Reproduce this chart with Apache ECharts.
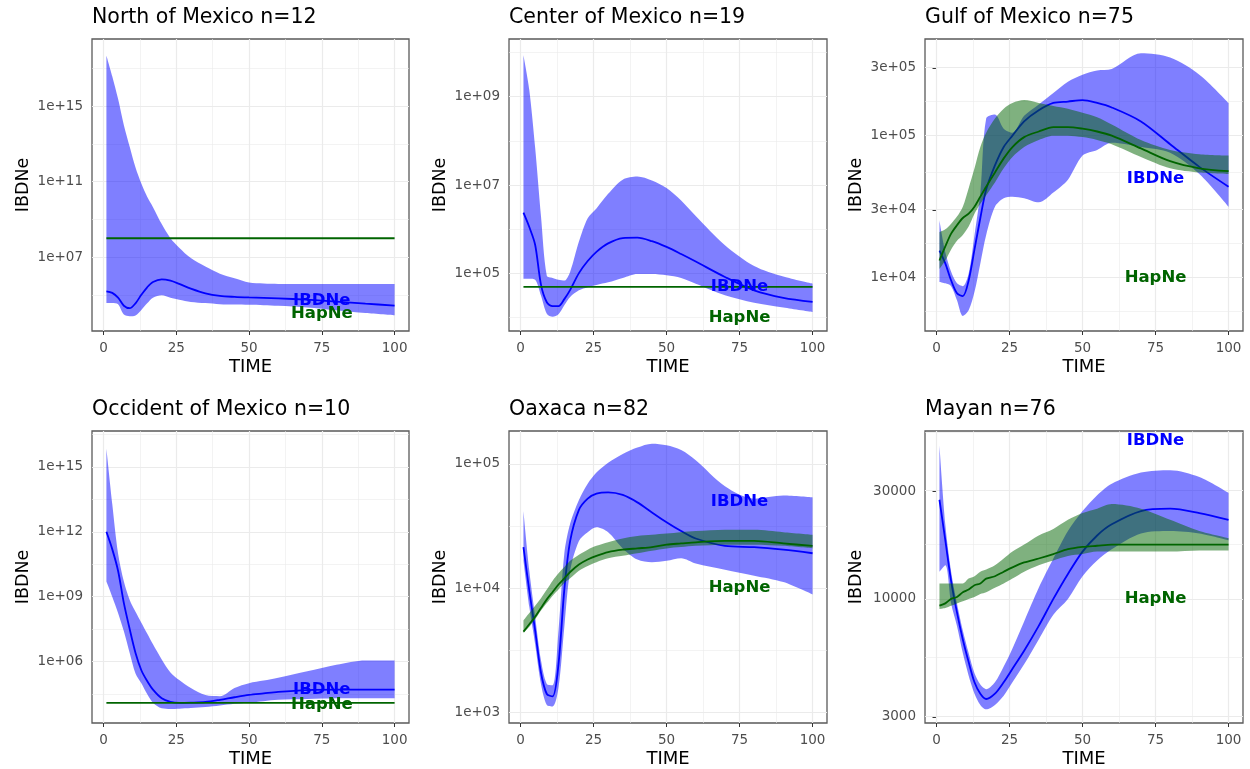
<!DOCTYPE html>
<html>
<head>
<meta charset="utf-8">
<script src="https://cdn.jsdelivr.net/npm/echarts@6/dist/echarts.min.js"></script>
<style>
  html, body { margin: 0; padding: 0; background: #fff; }
  #chart { width: 1250px; height: 769px; }
</style>
</head>
<body>
<div id="chart"></div>
<script>
const timeSteps = [1, 3, 5, 7, 9, 11, 13, 15, 17, 20, 23, 26, 30, 35, 40, 45, 50, 55, 60, 70, 80, 90, 100];
const flatTimes = [1, 100];

// North of Mexico
const northIbdLow = [3.63e4, 3.63e4, 3.16e4, 8.91e3, 7.24e3, 7.94e3, 1.58e4, 3.55e4, 7.08e4, 9.55e4, 7.08e4, 5.5e4, 4.17e4, 3.63e4, 3.16e4, 3.02e4, 2.95e4, 2.82e4, 2.63e4, 2.14e4, 1.51e4, 1.07e4, 8.13e3];
const northIbdMean = [1.51e5, 1.26e5, 7.08e4, 2.63e4, 1.95e4, 3.55e4, 1.0e5, 2.51e5, 4.79e5, 6.61e5, 5.62e5, 3.8e5, 2.14e5, 1.2e5, 8.71e4, 7.76e4, 7.24e4, 6.92e4, 6.46e4, 5.5e4, 4.37e4, 3.39e4, 2.69e4];
const northIbdHigh = [5.01e17, 3.98e16, 2.51e15, 1.0e14, 7.08e12, 5.62e11, 7.94e10, 1.58e10, 4.47e9, 5.62e8, 1.0e8, 3.16e7, 8.91e6, 3.16e6, 1.32e6, 7.59e5, 4.47e5, 3.98e5, 3.8e5, 3.72e5, 3.72e5, 3.72e5, 3.72e5];
const northHapLow = [1.0e8, 1.0e8];
const northHapMean = [1.0e8, 1.0e8];
const northHapHigh = [1.0e8, 1.0e8];

// Center of Mexico
const centerIbdLow = [7.59e4, 7.59e4, 7.24e4, 3.16e4, 1.23e4, 1.05e4, 1.2e4, 1.91e4, 2.95e4, 4.17e4, 4.9e4, 5.5e4, 6.31e4, 7.94e4, 9.77e4, 9.77e4, 9.12e4, 7.94e4, 5.89e4, 3.24e4, 2.19e4, 1.7e4, 1.35e4];
const centerIbdMean = [2.37e6, 1.12e6, 4.47e5, 5.62e4, 2.24e4, 1.82e4, 1.82e4, 2.63e4, 4.27e4, 1.02e5, 1.91e5, 3.09e5, 4.79e5, 6.31e5, 6.46e5, 5.37e5, 3.98e5, 2.75e5, 1.86e5, 8.32e4, 4.17e4, 2.82e4, 2.29e4];
const centerIbdHigh = [8.51e9, 1.41e9, 7.08e7, 2.0e6, 8.91e4, 7.94e4, 7.24e4, 6.92e4, 1.1e5, 5.25e5, 1.78e6, 2.95e6, 6.31e6, 1.32e7, 1.55e7, 1.26e7, 8.51e6, 4.47e6, 2.0e6, 4.37e5, 1.48e5, 8.51e4, 5.89e4];
const centerHapLow = [5.0e4, 5.0e4];
const centerHapMean = [5.0e4, 5.0e4];
const centerHapHigh = [5.0e4, 5.0e4];

// Gulf of Mexico
const gulfIbdLow = [9.33e3, 9.12e3, 8.71e3, 6.92e3, 5.37e3, 5.89e3, 7.94e3, 1.26e4, 2.0e4, 3.16e4, 3.63e4, 3.72e4, 3.63e4, 3.39e4, 3.98e4, 4.9e4, 7.24e4, 7.94e4, 8.91e4, 8.32e4, 7.59e4, 5.37e4, 3.16e4];
const gulfIbdMean = [1.55e4, 1.26e4, 9.55e3, 7.76e3, 7.41e3, 9.55e3, 1.58e4, 2.63e4, 4.17e4, 6.17e4, 8.32e4, 1.0e5, 1.26e5, 1.51e5, 1.7e5, 1.74e5, 1.78e5, 1.7e5, 1.58e5, 1.26e5, 8.71e4, 6.03e4, 4.37e4];
const gulfIbdHigh = [2.54e4, 1.51e4, 1.1e4, 9.12e3, 8.71e3, 1.07e4, 2.0e4, 3.98e4, 1.32e5, 1.41e5, 1.12e5, 1.05e5, 1.38e5, 1.66e5, 2.0e5, 2.4e5, 2.69e5, 2.88e5, 2.95e5, 3.8e5, 3.55e5, 2.69e5, 1.7e5];
const gulfHapLow = [1.15e4, 1.32e4, 1.58e4, 1.82e4, 2.0e4, 2.29e4, 2.82e4, 3.31e4, 3.8e4, 4.68e4, 5.89e4, 7.08e4, 8.32e4, 9.33e4, 1.0e5, 1.0e5, 9.77e4, 9.33e4, 8.71e4, 7.08e4, 5.89e4, 5.5e4, 5.37e4];
const gulfHapMean = [1.32e4, 1.66e4, 2.04e4, 2.34e4, 2.63e4, 2.82e4, 3.16e4, 3.72e4, 4.37e4, 5.5e4, 6.92e4, 8.32e4, 9.77e4, 1.07e5, 1.15e5, 1.15e5, 1.12e5, 1.07e5, 1.0e5, 8.13e4, 6.61e4, 5.89e4, 5.62e4];
const gulfHapHigh = [2.09e4, 2.19e4, 2.4e4, 2.69e4, 3.16e4, 4.27e4, 5.89e4, 8.32e4, 1.05e5, 1.32e5, 1.55e5, 1.7e5, 1.78e5, 1.7e5, 1.62e5, 1.55e5, 1.45e5, 1.35e5, 1.2e5, 9.33e4, 7.94e4, 7.41e4, 7.24e4];

// Occident of Mexico
const occidentIbdLow = [5.01e9, 1.0e9, 1.78e8, 2.51e7, 2.51e6, 2.82e5, 1.0e5, 3.16e4, 1.26e4, 6.92e3, 6.46e3, 6.61e3, 7.08e3, 7.94e3, 9.33e3, 1.12e4, 1.29e4, 1.48e4, 1.7e4, 1.86e4, 2.0e4, 2.04e4, 2.0e4];
const occidentIbdMean = [1.0e12, 1.58e11, 1.58e10, 5.01e8, 3.16e7, 2.51e6, 3.98e5, 1.26e5, 5.01e4, 2.0e4, 1.38e4, 1.23e4, 1.26e4, 1.35e4, 1.7e4, 2.24e4, 2.88e4, 3.39e4, 3.98e4, 4.79e4, 5.01e4, 5.01e4, 5.01e4];
const occidentIbdHigh = [7.08e15, 2.0e13, 1.0e11, 5.01e9, 7.08e8, 2.0e8, 6.31e7, 2.0e7, 6.31e6, 1.26e6, 3.16e5, 1.41e5, 6.03e4, 2.82e4, 2.51e4, 6.03e4, 1.0e5, 1.32e5, 1.78e5, 3.55e5, 7.08e5, 1.12e6, 1.12e6];
const occidentHapLow = [1.23e4, 1.23e4];
const occidentHapMean = [1.23e4, 1.23e4];
const occidentHapHigh = [1.23e4, 1.23e4];

// Oaxaca
const oaxacaIbdLow = [1.66e4, 7.08e3, 3.55e3, 1.7e3, 1.15e3, 1.12e3, 1.58e3, 4.9e3, 1.38e4, 2.4e4, 2.82e4, 3.09e4, 2.82e4, 2.09e4, 1.7e4, 1.62e4, 1.66e4, 1.74e4, 1.58e4, 1.41e4, 1.26e4, 1.12e4, 8.91e3];
const oaxacaIbdMean = [2.14e4, 9.55e3, 4.57e3, 2.09e3, 1.41e3, 1.35e3, 2.45e3, 9.77e3, 2.4e4, 4.27e4, 5.25e4, 5.75e4, 5.89e4, 5.62e4, 4.9e4, 4.07e4, 3.39e4, 2.88e4, 2.51e4, 2.19e4, 2.14e4, 2.04e4, 1.91e4];
const oaxacaIbdHigh = [4.17e4, 1.38e4, 5.89e3, 2.63e3, 1.7e3, 1.66e3, 4.57e3, 1.91e4, 3.31e4, 5.13e4, 6.92e4, 8.51e4, 1.02e5, 1.2e5, 1.35e5, 1.45e5, 1.41e5, 1.29e5, 1.07e5, 6.61e4, 5.25e4, 5.56e4, 5.37e4];
const oaxacaHapLow = [4.37e3, 4.9e3, 5.62e3, 6.61e3, 7.59e3, 8.71e3, 9.77e3, 1.1e4, 1.2e4, 1.38e4, 1.51e4, 1.62e4, 1.74e4, 1.82e4, 1.91e4, 2.0e4, 2.09e4, 2.14e4, 2.19e4, 2.24e4, 2.24e4, 2.19e4, 2.09e4];
const oaxacaHapMean = [4.47e3, 5.13e3, 5.89e3, 6.92e3, 8.13e3, 9.33e3, 1.07e4, 1.2e4, 1.35e4, 1.55e4, 1.7e4, 1.82e4, 1.95e4, 2.04e4, 2.09e4, 2.14e4, 2.24e4, 2.29e4, 2.34e4, 2.4e4, 2.4e4, 2.29e4, 2.19e4];
const oaxacaHapHigh = [5.5e3, 6.31e3, 7.24e3, 8.32e3, 9.77e3, 1.15e4, 1.32e4, 1.48e4, 1.66e4, 1.86e4, 2.04e4, 2.19e4, 2.34e4, 2.51e4, 2.63e4, 2.69e4, 2.75e4, 2.82e4, 2.88e4, 2.95e4, 2.95e4, 2.82e4, 2.69e4];

// Mayan
const mayanIbdLow = [1.32e4, 1.41e4, 9.55e3, 7.59e3, 5.75e3, 4.57e3, 3.8e3, 3.39e3, 3.24e3, 3.39e3, 3.72e3, 4.27e3, 5.13e3, 6.61e3, 8.51e3, 1.0e4, 1.26e4, 1.48e4, 1.66e4, 1.95e4, 2.0e4, 1.95e4, 1.82e4];
const mayanIbdMean = [2.75e4, 1.82e4, 1.2e4, 8.71e3, 6.61e3, 5.25e3, 4.27e3, 3.8e3, 3.6e3, 3.8e3, 4.27e3, 4.9e3, 5.89e3, 7.59e3, 1.0e4, 1.29e4, 1.62e4, 1.91e4, 2.14e4, 2.45e4, 2.51e4, 2.4e4, 2.24e4];
const mayanIbdHigh = [4.79e4, 2.14e4, 1.32e4, 9.55e3, 7.24e3, 5.75e3, 4.68e3, 4.17e3, 3.98e3, 4.27e3, 5.01e3, 6.03e3, 7.94e3, 1.12e4, 1.51e4, 2.0e4, 2.45e4, 2.88e4, 3.24e4, 3.63e4, 3.72e4, 3.47e4, 2.95e4];
const mayanHapLow = [9.02e3, 9.12e3, 9.33e3, 9.55e3, 9.77e3, 1.0e4, 1.02e4, 1.05e4, 1.07e4, 1.12e4, 1.17e4, 1.23e4, 1.32e4, 1.41e4, 1.48e4, 1.55e4, 1.58e4, 1.62e4, 1.62e4, 1.62e4, 1.62e4, 1.64e4, 1.64e4];
const mayanHapMean = [9.33e3, 9.55e3, 1.0e4, 1.02e4, 1.07e4, 1.1e4, 1.15e4, 1.17e4, 1.23e4, 1.26e4, 1.32e4, 1.38e4, 1.45e4, 1.51e4, 1.58e4, 1.66e4, 1.7e4, 1.72e4, 1.74e4, 1.74e4, 1.74e4, 1.74e4, 1.74e4];
const mayanHapHigh = [1.17e4, 1.17e4, 1.17e4, 1.17e4, 1.17e4, 1.23e4, 1.26e4, 1.32e4, 1.35e4, 1.41e4, 1.51e4, 1.62e4, 1.74e4, 1.91e4, 2.04e4, 2.24e4, 2.4e4, 2.51e4, 2.63e4, 2.51e4, 2.24e4, 2.0e4, 1.86e4];

// axis breaks and their labels
const xBreaks = [0, 25, 50, 75, 100];
const northBreaks = [1e7, 1e11, 1e15];
const northLabels = ['1e+07', '1e+11', '1e+15'];
const centerBreaks = [1e5, 1e7, 1e9];
const centerLabels = ['1e+05', '1e+07', '1e+09'];
const gulfBreaks = [1e4, 3e4, 1e5, 3e5];
const gulfLabels = ['1e+04', '3e+04', '1e+05', '3e+05'];
const occidentBreaks = [1e6, 1e9, 1e12, 1e15];
const occidentLabels = ['1e+06', '1e+09', '1e+12', '1e+15'];
const oaxacaBreaks = [1e3, 1e4, 1e5];
const oaxacaLabels = ['1e+03', '1e+04', '1e+05'];
const mayanBreaks = [3000, 10000, 30000];
const mayanLabels = ['3000', '10000', '30000'];

// where the two text labels sit
const labelTime = 75;
const ibdneLabelNe = 5e4;
const hapneLabelNe = 1e4;

const panels = [
  { title: 'North of Mexico n=12', ibd: [northIbdLow, northIbdMean, northIbdHigh], hapTimes: flatTimes, hap: [northHapLow, northHapMean, northHapHigh], breaks: northBreaks, labels: northLabels, yRange: [3.08, 18.57] },
  { title: 'Center of Mexico n=19', ibd: [centerIbdLow, centerIbdMean, centerIbdHigh], hapTimes: flatTimes, hap: [centerHapLow, centerHapMean, centerHapHigh], breaks: centerBreaks, labels: centerLabels, yRange: [3.70, 10.30] },
  { title: 'Gulf of Mexico n=75', ibd: [gulfIbdLow, gulfIbdMean, gulfIbdHigh], hapTimes: timeSteps, hap: [gulfHapLow, gulfHapMean, gulfHapHigh], breaks: gulfBreaks, labels: gulfLabels, yRange: [3.624, 5.681] },
  { title: 'Occident of Mexico n=10', ibd: [occidentIbdLow, occidentIbdMean, occidentIbdHigh], hapTimes: flatTimes, hap: [occidentHapLow, occidentHapMean, occidentHapHigh], breaks: occidentBreaks, labels: occidentLabels, yRange: [3.16, 16.66] },
  { title: 'Oaxaca n=82', ibd: [oaxacaIbdLow, oaxacaIbdMean, oaxacaIbdHigh], hapTimes: timeSteps, hap: [oaxacaHapLow, oaxacaHapMean, oaxacaHapHigh], breaks: oaxacaBreaks, labels: oaxacaLabels, yRange: [2.916, 5.264] },
  { title: 'Mayan n=76', ibd: [mayanIbdLow, mayanIbdMean, mayanIbdHigh], hapTimes: timeSteps, hap: [mayanHapLow, mayanHapMean, mayanHapHigh], breaks: mayanBreaks, labels: mayanLabels, yRange: [3.450, 4.744] }
];

const FONT = 'DejaVu Sans';
const BLUE = '#0000FF';
const GREEN = '#006400';
const gridLefts = [92, 509, 925];
const gridWidths = [317, 318, 318];
const gridTops = [39, 431];
const gridHeight = 292;
const xRange = [-3.95, 104.95];

// ggplot style minor breaks: midpoints between breaks, one step extended each side
function minorBreaks(b, lo, hi) {
  const d = b[1] - b[0];
  const ext = [b[0] - d].concat(b, [b[b.length - 1] + d]);
  const out = [];
  for (let i = 0; i < ext.length - 1; i++) out.push((ext[i] + ext[i + 1]) / 2);
  return out.filter(v => v > lo && v < hi);
}

// band between low and high: value first so that the stack runs on y
function ribbon(i, times, low, high, color, stackId, z) {
  const common = {
    type: 'line', xAxisIndex: i, yAxisIndex: i, stack: stackId, encode: { x: 1, y: 0 },
    symbol: 'none', smooth: 0.3, silent: true, z, lineStyle: { opacity: 0, width: 0 }
  };
  return [
    Object.assign({}, common, { data: times.map((t, k) => [Math.log10(low[k]), t]) }),
    Object.assign({}, common, {
      data: times.map((t, k) => [Math.log10(high[k]) - Math.log10(low[k]), t]),
      areaStyle: { color, opacity: 1 }
    })
  ];
}

function meanLine(i, times, values, color, z) {
  return {
    type: 'line', xAxisIndex: i, yAxisIndex: i, symbol: 'none', smooth: 0.3, silent: true, z,
    data: times.map((t, k) => [t, Math.log10(values[k])]),
    lineStyle: { color, width: 1.8 }
  };
}

function textMark(i, ne, text, color) {
  return {
    type: 'scatter', xAxisIndex: i, yAxisIndex: i, silent: true, z: 6, symbolSize: 1,
    itemStyle: { color: 'rgba(0,0,0,0)', opacity: 1 },
    data: [[labelTime, Math.log10(ne)]],
    label: { show: true, position: 'inside', formatter: text, color, opacity: 1, fontWeight: 'bold', fontSize: 16.5, fontFamily: FONT }
  };
}

const option = { animation: false, backgroundColor: '#ffffff', title: [], grid: [], xAxis: [], yAxis: [], series: [] };

panels.forEach((p, i) => {
  const col = i % 3, row = Math.floor(i / 3);
  const left = gridLefts[col], top = gridTops[row];
  option.grid.push({ left, top, width: gridWidths[col], height: gridHeight, show: true, borderColor: '#5a5a5a', borderWidth: 1.3, backgroundColor: '#ffffff' });
  option.title.push({ text: p.title, left, top: top - 32, padding: 0, textStyle: { fontSize: 20.5, fontWeight: 'normal', color: '#000', fontFamily: FONT } });

  const yMajor = p.breaks.map(v => Math.log10(v));
  const yMinor = minorBreaks(yMajor, p.yRange[0], p.yRange[1]);
  const xMinor = minorBreaks(xBreaks, xRange[0], xRange[1]);

  option.xAxis.push({
    gridIndex: i, type: 'value', min: xRange[0], max: xRange[1],
    axisLine: { show: false },
    axisTick: { show: true, customValues: xBreaks, length: 4, lineStyle: { color: '#333333', width: 1 } },
    axisLabel: { customValues: xBreaks, color: '#4d4d4d', fontSize: 13.5, fontFamily: FONT, margin: 10 },
    splitLine: { show: false },
    name: 'TIME', nameLocation: 'middle', nameGap: 27,
    nameTextStyle: { color: '#000', fontSize: 18, fontFamily: FONT }
  });
  option.yAxis.push({
    gridIndex: i, type: 'value', min: p.yRange[0], max: p.yRange[1],
    axisLine: { show: false },
    axisTick: { show: true, customValues: yMajor, length: 4, lineStyle: { color: '#333333', width: 1 } },
    axisLabel: {
      customValues: yMajor, color: '#4d4d4d', fontSize: 13.5, fontFamily: FONT, margin: 9,
      formatter: v => {
        const k = yMajor.findIndex(b => Math.abs(b - v) < 1e-6);
        return k >= 0 ? p.labels[k] : '';
      }
    },
    splitLine: { show: false },
    name: 'IBDNe', nameLocation: 'middle', nameGap: 60,
    nameTextStyle: { color: '#000', fontSize: 17.5, fontFamily: FONT }
  });

  // panel grid lines, kept under the ribbons
  option.series.push({
    type: 'line', xAxisIndex: i, yAxisIndex: i, data: [[-50, -50]], symbol: 'none', silent: true, z: 1,
    lineStyle: { opacity: 0 },
    markLine: {
      z: 1, silent: true, symbol: ['none', 'none'], animation: false, label: { show: false },
      lineStyle: { color: '#EBEBEB', type: 'solid', width: 1.2 },
      emphasis: { disabled: true },
      data: []
        .concat(yMinor.map(v => ({ yAxis: v, lineStyle: { width: 0.6 } })))
        .concat(xMinor.map(v => ({ xAxis: v, lineStyle: { width: 0.6 } })))
        .concat(yMajor.map(v => ({ yAxis: v })))
        .concat(xBreaks.map(v => ({ xAxis: v })))
    }
  });

  option.series.push(...ribbon(i, timeSteps, p.ibd[0], p.ibd[2], 'rgba(0,0,255,0.5)', 'ibd' + i, 2));
  option.series.push(meanLine(i, timeSteps, p.ibd[1], BLUE, 3));
  option.series.push(...ribbon(i, p.hapTimes, p.hap[0], p.hap[2], 'rgba(0,100,0,0.5)', 'hap' + i, 4));
  option.series.push(meanLine(i, p.hapTimes, p.hap[1], GREEN, 5));
  option.series.push(textMark(i, ibdneLabelNe, 'IBDNe', BLUE));
  option.series.push(textMark(i, hapneLabelNe, 'HapNe', GREEN));
});

const chart = echarts.init(document.getElementById('chart'), null, { renderer: 'canvas' });
chart.setOption(option);
window.addEventListener('resize', () => chart.resize());
</script>
</body>
</html>
